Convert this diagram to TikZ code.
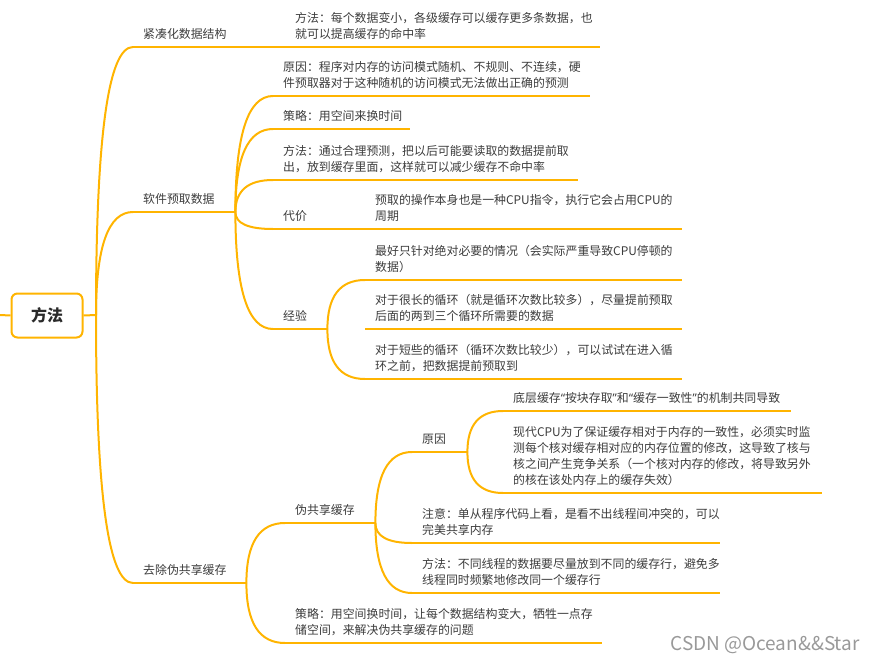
\documentclass[tikz,border=0pt]{standalone}
\usepackage{fontspec}
\newfontfamily\cjk{Noto Sans CJK SC}
\newfontfamily\latinq{Noto Sans}
\usetikzlibrary{positioning,calc}
\definecolor{branchorange}{RGB}{255,180,0}
\definecolor{ink}{RGB}{60,60,60}

\begin{document}
\begin{tikzpicture}[x=1pt,y=-1pt,
  branch/.style={draw=branchorange,line width=2pt},
  link/.style={to path={.. controls ($(\tikztostart)!2/3!(\tikztostart |- \tikztotarget)$)
    and ($(\tikztotarget)!2/3!(\tikztostart |- \tikztotarget)$) .. (\tikztotarget)}},
  topic/.style={anchor=south west,inner xsep=10pt,inner ysep=7.3pt,text width=#1,align=left,text=ink,
    font=\cjk\fontsize{11.9}{16}\selectfont,
    append after command={(\tikzlastnode.south west) edge[branch] (\tikzlastnode.south east)}},
  rootbox/.style={draw=branchorange,line width=2pt,rounded corners=6pt,fill=white,minimum width=71pt,
    minimum height=44pt,text=ink!70!black,font=\cjk\bfseries\fontsize{16}{18}\selectfont}]
  \useasboundingbox (0,0) rectangle (877,663);
  \node[rootbox] (root) at (47,315.5) {方法};
  \coordinate (stub) at (0,315);
  \coordinate (hub) at (96,315);

  \node[topic=132pt] (compact) at (133,47) {紧凑化数据结构};
  \node[topic=295pt] (compactHow) at (285,47) {方法：每个数据变小，各级缓存可以缓存更多条数据，也\\就可以提高缓存的命中率};

  \node[topic=82pt] (prefetch) at (133,212) {软件预取数据};
  \node[topic=297pt] (pfWhy) at (273,96) {原因：程序对内存的访问模式随机、不规则、不连续，硬\\件预取器对于这种随机的访问模式无法做出正确的预测};
  \node[topic=117pt] (pfPlan) at (273,129) {策略：用空间来换时间};
  \node[topic=285pt] (pfHow) at (273,180) {方法：通过合理预测，把以后可能要读取的数据提前取\\出，放到缓存里面，这样就可以减少缓存不命中率};
  \node[topic=72pt] (pfCost) at (273,229) {代价};
  \node[topic=297pt] (costA) at (365,229) {预取的操作本身也是一种CPU指令，执行它会占用CPU的\\周期};
  \node[topic=34pt] (pfTips) at (273,329) {经验};
  \node[topic=297pt] (tipA) at (365,280) {最好只针对绝对必要的情况（会实际严重导致CPU停顿的\\数据）};
  \node[topic=297pt] (tipB) at (365,329) {对于很长的循环（就是循环次数比较多），尽量提前预取\\后面的两到三个循环所需要的数据};
  \node[topic=297pt] (tipC) at (365,379) {对于短些的循环（循环次数比较少），可以试试在进入循\\环之前，把数据提前预取到};

  \node[topic=93pt] (falseshare) at (133,583) {去除伪共享缓存};
  \node[topic=70pt] (fsCache) at (285,523) {伪共享缓存};
  \node[topic=35pt] (fsWhy) at (412,452) {原因};
  \node[topic=268pt] (whyA) at (503,411) {底层缓存{\latinq “}按块存取{\latinq ”}和{\latinq “}缓存一致性{\latinq ”}的机制共同导致};
  \node[topic=299pt] (whyB) at (503,493) {现代CPU为了保证缓存相对于内存的一致性，必须实时监\\测每个核对缓存相对应的内存位置的修改，这导致了核与\\核之间产生竞争关系（一个核对内存的修改，将导致另外\\的核在该处内存上的缓存失效）};
  \node[topic=288pt] (fsNote) at (412,543) {注意：单从程序代码上看，是看不出线程间冲突的，可以\\完美共享内存};
  \node[topic=288pt] (fsHow) at (412,593) {方法：不同线程的数据要尽量放到不同的缓存行，避免多\\线程同时频繁地修改同一个缓存行};
  \node[topic=297pt] (fsPlan) at (285,643) {策略：用空间换时间，让每个数据结构变大，牺牲一点存\\储空间，来解决伪共享缓存的问题};

  \draw[branch] (stub) -- (root.west);
  \draw[branch] (root.east) -- (hub);
  \foreach \t in {compact,prefetch,falseshare} \draw[branch] (hub) to[link] (\t.south west);
  \foreach \t in {pfWhy,pfPlan,pfHow,pfCost,pfTips} \draw[branch] (prefetch.south east) to[link] (\t.south west);
  \foreach \t in {tipA,tipC} \draw[branch] (pfTips.south east) to[link] (\t.south west);
  \foreach \t in {fsCache,fsPlan} \draw[branch] (falseshare.south east) to[link] (\t.south west);
  \foreach \t in {fsWhy,fsNote,fsHow} \draw[branch] (fsCache.south east) to[link] (\t.south west);
  \foreach \t in {whyA,whyB} \draw[branch] (fsWhy.south east) to[link] (\t.south west);

  \node[font=\cjk\fontsize{19}{21}\selectfont,text=black!40] (wm) at (765,645) {CSDN @Ocean\&\&Star};
\end{tikzpicture}
\end{document}
